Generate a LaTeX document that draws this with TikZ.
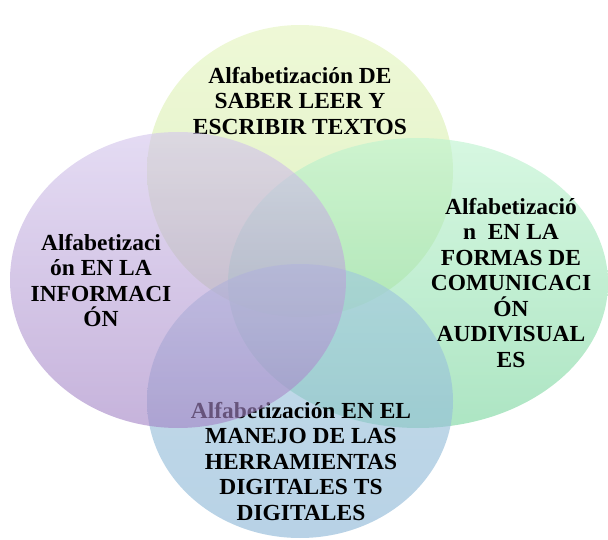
\documentclass[tikz,border=0pt]{standalone}
\usepackage{fontspec}
\setmainfont[FakeStretch=1.02]{Liberation Serif}
\usetikzlibrary{shapes.geometric}
\definecolor{ylA}{RGB}{228,244,190}
\definecolor{ylB}{RGB}{205,233,160}
\definecolor{puA}{RGB}{212,198,236}
\definecolor{puB}{RGB}{163,132,197}
\definecolor{grA}{RGB}{190,243,207}
\definecolor{grB}{RGB}{122,213,158}
\definecolor{blA}{RGB}{160,200,222}
\definecolor{blB}{RGB}{140,182,214}
\tikzset{
  venn/.style={ellipse, inner sep=0pt, outer sep=0pt, draw=none, fill opacity=0.62, text opacity=1},
  lbl/.style={anchor=north, inner sep=0pt, align=center, text=black,
    font=\bfseries\fontsize{23}{25.5}\selectfont}
}
\begin{document}
\begin{tikzpicture}[x=1pt,y=-1pt]
\useasboundingbox (0,0) rectangle (608,540);
% top
\node[venn, minimum width=306pt, minimum height=292pt, top color=ylA, bottom color=ylB] (top) at (300,171) {};
\node[lbl] (ttop) at (300,67) {Alfabetización DE\\SABER LEER Y\\ESCRIBIR TEXTOS};
% right
\node[venn, minimum width=380pt, minimum height=290pt, top color=grA, bottom color=grB] (right) at (418,283) {};
\node[lbl] (tright) at (511,198) {Alfabetizació\\n\ \ EN LA\\FORMAS DE\\COMUNICACI\\ÓN\\AUDIVISUAL\\ES};
% bottom
\node[venn, minimum width=306pt, minimum height=274pt, top color=blA, bottom color=blB] (bottom) at (300,401) {};
\node[lbl] (tbottom) at (301,402) {Alfabetización EN EL\\MANEJO DE LAS\\HERRAMIENTAS\\DIGITALES TS\\DIGITALES};
% left
\node[venn, minimum width=336pt, minimum height=296pt, top color=puA, bottom color=puB] (left) at (178,280) {};
\node[lbl] (tleft) at (101,234) {Alfabetizaci\\ón EN LA\\INFORMACI\\ÓN};
\end{tikzpicture}
\end{document}
